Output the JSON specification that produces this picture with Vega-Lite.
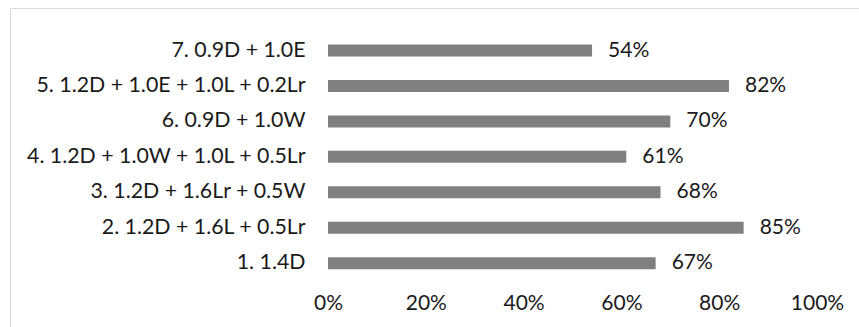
{
  "$schema": "https://vega.github.io/schema/vega-lite/v6.json",
  "width": 849,
  "height": 319,
  "autosize": "none",
  "padding": {"left": 10, "top": 8, "right": 0, "bottom": 0},
  "background": "white",
  "config": {
    "view": {"stroke": "#d9d9d9", "strokeWidth": 1},
    "font": "Lato"
  },
  "data": {
    "values": [
      {"combo": "7. 0.9D + 1.0E", "ratio": 0.54},
      {"combo": "5. 1.2D + 1.0E + 1.0L + 0.2Lr", "ratio": 0.82},
      {"combo": "6. 0.9D + 1.0W", "ratio": 0.70},
      {"combo": "4. 1.2D + 1.0W + 1.0L + 0.5Lr", "ratio": 0.61},
      {"combo": "3. 1.2D + 1.6Lr + 0.5W", "ratio": 0.68},
      {"combo": "2. 1.2D + 1.6L + 0.5Lr", "ratio": 0.85},
      {"combo": "1. 1.4D", "ratio": 0.67}
    ]
  },
  "encoding": {
    "y": {
      "field": "combo",
      "type": "nominal",
      "sort": null,
      "scale": {"paddingInner": 0, "paddingOuter": 1.236, "align": 0.35},
      "axis": {
        "title": null,
        "offset": -295,
        "labelPadding": 0,
        "ticks": false,
        "domain": false,
        "labelFontSize": 21.3,
        "labelColor": "#1a1a1a",
        "labelFont": "Lato",
        "labelLimit": 400
      }
    },
    "x": {
      "field": "ratio",
      "type": "quantitative",
      "scale": {"domain": [-0.65031, 1.08589], "nice": false, "zero": false},
      "axis": {
        "title": null,
        "values": [0, 0.2, 0.4, 0.6, 0.8, 1.0],
        "format": ".0%",
        "grid": false,
        "ticks": false,
        "domain": false,
        "offset": -24,
        "labelPadding": 0,
        "labelBaseline": "middle",
        "labelFontSize": 21,
        "labelColor": "#1a1a1a",
        "labelFont": "Lato"
      }
    }
  },
  "layer": [
    {
      "mark": {"type": "bar", "size": 12, "color": "#808080"},
      "encoding": {"x2": {"datum": 0}}
    },
    {
      "mark": {"type": "text", "align": "left", "baseline": "middle", "dx": 16, "fontSize": 21, "color": "#1a1a1a", "font": "Lato"},
      "encoding": {"text": {"field": "ratio", "type": "quantitative", "format": ".0%"}}
    }
  ]
}
